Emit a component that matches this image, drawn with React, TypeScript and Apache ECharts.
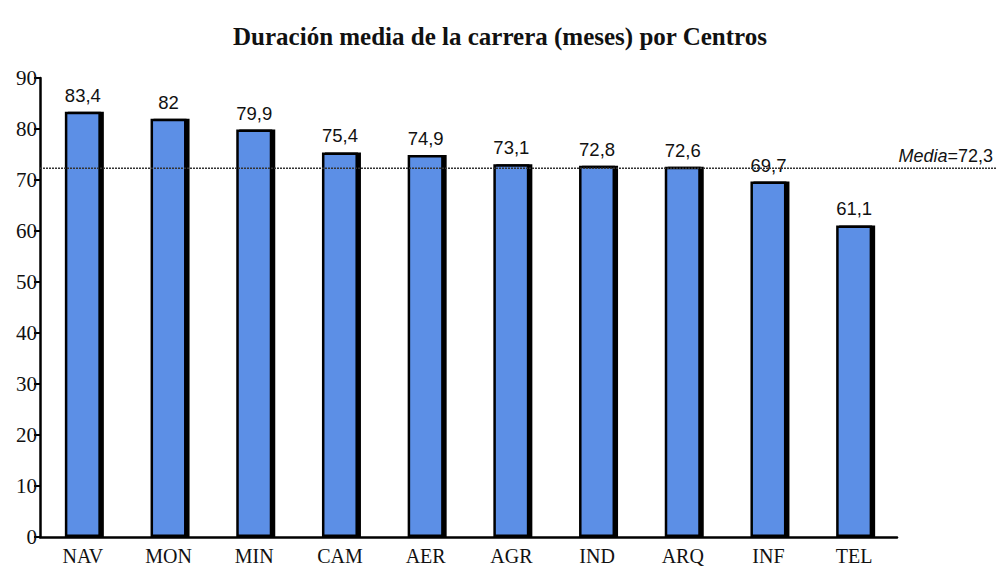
import React, { useEffect, useRef } from "react";
import * as echarts from "echarts";

const TITLE = "Duración media de la carrera (meses) por Centros";
const CATEGORIES = ["NAV", "MON", "MIN", "CAM", "AER", "AGR", "IND", "ARQ", "INF", "TEL"];
const VALUES = [83.4, 82, 79.9, 75.4, 74.9, 73.1, 72.8, 72.6, 69.7, 61.1];
const MEDIA = 72.3;
const Y_MIN = 0;
const Y_MAX = 90;
const Y_INTERVAL = 10;

const fmt = (v: number) => String(v).replace(".", ",");

export default function App() {
  const ref = useRef<HTMLDivElement>(null);
  useEffect(() => {
    if (!ref.current) return;
    const chart = echarts.init(ref.current, undefined, { renderer: "svg" });
    const gridLeft = 32;
    const gridRight = 100;
    chart.setOption({
      animation: false,
      backgroundColor: "#ffffff",
      title: {
        text: TITLE,
        left: 487,
        textAlign: "center",
        top: 11,
        textStyle: {
          fontFamily: "Liberation Serif",
          fontWeight: "bold",
          fontSize: 25,
          color: "#111",
        },
      },
      grid: { left: gridLeft, right: gridRight, top: 70, bottom: 39 },
      xAxis: {
        type: "category",
        data: CATEGORIES,
        axisLine: { lineStyle: { color: "#000", width: 2.5 } },
        axisTick: { show: false },
        axisLabel: {
          fontFamily: "Liberation Serif",
          fontSize: 20,
          color: "#111",
          margin: 9,
        },
      },
      yAxis: {
        type: "value",
        min: Y_MIN,
        max: Y_MAX,
        interval: Y_INTERVAL,
        splitLine: { show: false },
        axisLine: { show: true, lineStyle: { color: "#000", width: 2.5 } },
        axisTick: { show: true, length: 6, lineStyle: { color: "#000", width: 2 } },
        axisLabel: {
          fontFamily: "Liberation Serif",
          fontSize: 21,
          color: "#111",
          margin: 3,
        },
      },
      series: [
        {
          type: "bar",
          data: VALUES,
          barWidth: 36,
          itemStyle: {
            color: "#5b8fe6",
            borderColor: "#000",
            borderWidth: 2.5,
            shadowColor: "#000",
            shadowOffsetX: 3,
            shadowOffsetY: 0,
            shadowBlur: 0,
          },
          label: {
            show: true,
            position: "top",
            distance: 7,
            fontFamily: "Liberation Sans",
            fontSize: 18.5,
            color: "#111",
            formatter: (p: any) => fmt(p.value),
          },
        },
      ],
    });
    const y = chart.convertToPixel({ yAxisIndex: 0 }, MEDIA) as number;
    chart.setOption({
      graphic: [
        {
          type: "line",
          shape: { x1: gridLeft, y1: y, x2: 989, y2: y },
          style: { stroke: "#333", lineWidth: 1.5, lineDash: [2, 1] },
          z: 5,
        },
        {
          type: "text",
          x: 985,
          y: y - 3,
          style: {
            text: "{i|Media}=" + fmt(MEDIA),
            rich: {
              i: { fontFamily: "Liberation Sans", fontStyle: "italic", fontSize: 18, fill: "#111" },
            },
            fontFamily: "Liberation Sans",
            fontSize: 18,
            fill: "#111",
            align: "right",
            verticalAlign: "bottom",
          },
          z: 6,
        },
      ],
    });
    return () => chart.dispose();
  }, []);
  return <div ref={ref} style={{ width: 989, height: 568 }} />;
}
